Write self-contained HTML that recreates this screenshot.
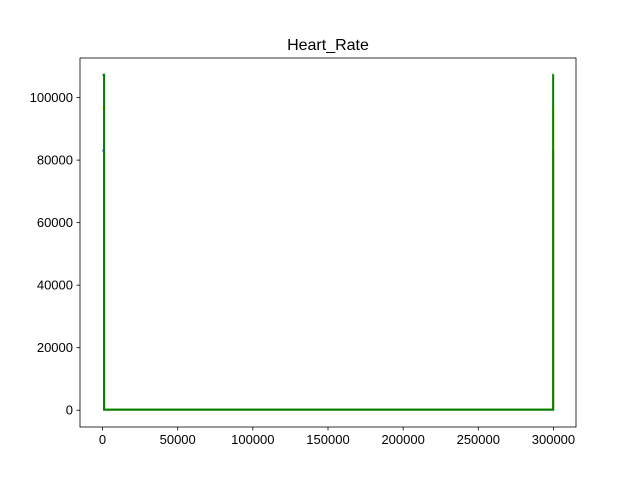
<!DOCTYPE html>
<html><head><meta charset="utf-8"><style>
body{margin:0;background:#fff;}
svg text{font-family:"Liberation Sans","DejaVu Sans",sans-serif;}
</style></head><body>
<svg id="chart" width="640" height="480">
<rect width="640" height="480" fill="#fff"/>
<text x="328" y="50" text-anchor="middle" font-size="16">Heart_Rate</text>
<g id="plot"></g>
</svg>
<script>
const xVals = [0, 1000, 1000, 299800, 299800, 300000];
const blueVals = [83000, 83000, 200, 200, 83000, 83000];
const yellowVals = [96500, 96500, 200, 200, 96500, 96500];
const greenVals = [107300, 107300, 200, 200, 107300, 107300];
const xTicks = [0, 50000, 100000, 150000, 200000, 250000, 300000];
const yTicks = [0, 20000, 40000, 60000, 80000, 100000];

const L=80,R=576,T=58,B=427;
const xMin=-15000,xMax=315000,yMin=-5365,yMax=112665;
const sx=v=>L+(v-xMin)/(xMax-xMin)*(R-L);
const sy=v=>B-(v-yMin)/(yMax-yMin)*(B-T);
const NS="http://www.w3.org/2000/svg";
const g=document.getElementById('plot');
function mk(tag,attrs){const e=document.createElementNS(NS,tag);for(const k in attrs)e.setAttribute(k,attrs[k]);g.appendChild(e);return e;}

function series(vals,color,name){
  const p=mk('polyline',{points:xVals.map((x,i)=>sx(x)+','+sy(vals[i])).join(' '),fill:'none',stroke:color,'stroke-width':2});
  
  
}
series(blueVals,'#0000ff','series-blue');
series(yellowVals,'#ffff00','series-yellow');
series(greenVals,'#008000','series-green');

const frame=mk('rect',{x:L,y:T,width:R-L,height:B-T,fill:'none',stroke:'#000','stroke-width':0.8});



xTicks.forEach(v=>{
  const x=sx(v);
  const t=mk('line',{x1:x,x2:x,y1:B,y2:B+3.5,stroke:'#000','stroke-width':0.8});
  
  
  const l=mk('text',{x:x,y:B+17,'text-anchor':'middle','font-size':13});
  l.textContent=v;
  
  
});
yTicks.forEach(v=>{
  const y=sy(v);
  const t=mk('line',{x1:L-3.5,x2:L,y1:y,y2:y,stroke:'#000','stroke-width':0.8});
  
  
  const l=mk('text',{x:L-7,y:y+4.5,'text-anchor':'end','font-size':13});
  l.textContent=v;
  
  
});
</script>
</body></html>
